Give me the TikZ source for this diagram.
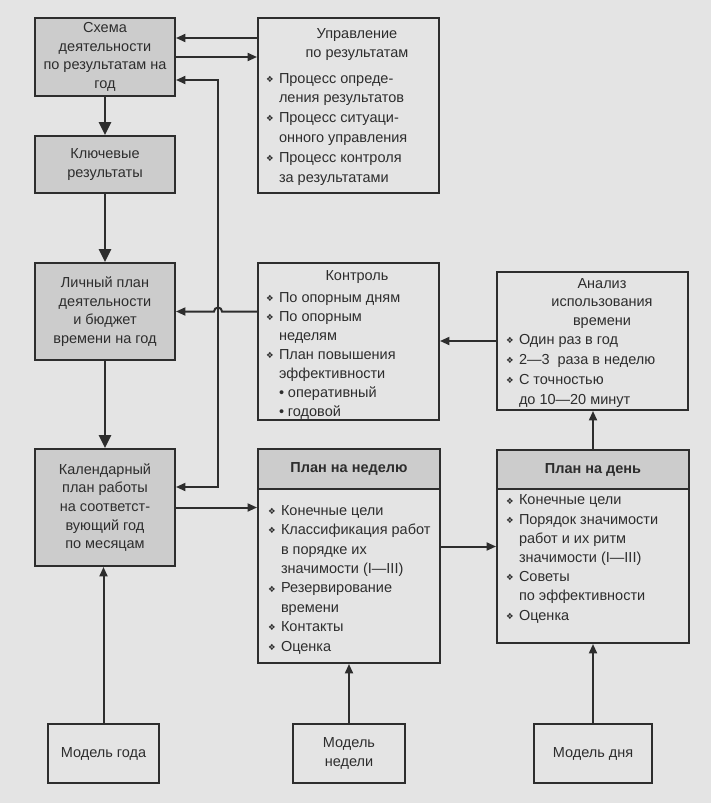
\documentclass[tikz,border=0pt]{standalone}
\usepackage{fontspec}
\setmainfont{Liberation Sans}
\newfontfamily\symfont{DejaVu Sans}
\usetikzlibrary{arrows.meta}
\definecolor{paper}{RGB}{228,228,228}
\definecolor{boxgray}{RGB}{204,204,204}
\definecolor{ink}{RGB}{45,45,45}
\newcommand\itm{\makebox[13pt][l]{\raisebox{0.8pt}{\symfont\fontsize{8.5}{8.5}\selectfont ❖}}}
\newcommand\itmind{\hspace*{13pt}}
\newcommand\sitm{\hspace*{13pt}\makebox[9pt][l]{•}}
\begin{document}
\begin{tikzpicture}[x=1pt,y=-1pt,>={Triangle[length=9.5pt,width=8pt]},
  plainbox/.style={draw=ink,line width=1.9pt,inner sep=2pt,text=ink,font=\fontsize{14.5}{18.7}\selectfont},
  graybox/.style={plainbox,fill=boxgray,align=center},
  txt/.style={inner sep=0pt,outer sep=0pt,text=ink,font=\fontsize{14.5}{19.5}\selectfont},
  lst/.style={txt,align=left,anchor=base west},
  arr/.style={draw=ink,line width=2pt,->},
  bigarr/.style={draw=ink,line width=2.9pt,-{Triangle[length=13pt,width=12pt]}}]
\path[use as bounding box,fill=paper] (0,0) rectangle (711,803);
\node[graybox,minimum width=140,minimum height=78] (shema) at (105,57) {Схема\\деятельности\\по результатам на\\год};
\node[graybox,minimum width=140,minimum height=57] (kluch) at (105,164.5) {Ключевые\\результаты};
\node[graybox,minimum width=140,minimum height=97] (lichn) at (105,311.5) {Личный план\\деятельности\\и бюджет\\времени на год};
\node[graybox,minimum width=140,minimum height=117] (kalend) at (105,507.5) {Календарный\\план работы\\на соответст-\\вующий год\\по месяцам};
\node[plainbox,minimum width=181,minimum height=175] (upr) at (348.5,105.5) {};
\node[txt,align=center,anchor=base,font=\fontsize{14.5}{19}\selectfont] (upr-t) at (357,57) {Управление\\по результатам};
\node[lst,font=\fontsize{14.5}{19.8}\selectfont] (upr-l) at (266,182) {\itm Процесс опреде-\\ \itmind ления результатов\\ \itm Процесс ситуаци-\\ \itmind онного управления\\ \itm Процесс контроля\\ \itmind за результатами};
\node[plainbox,minimum width=181,minimum height=157] (kontr) at (348.5,341.5) {};
\node[txt,anchor=base] (kontr-t) at (357,280) {Контроль};
\node[lst,font=\fontsize{14.5}{19}\selectfont] (kontr-l) at (266,416) {\itm По опорным дням\\ \itm По опорным\\ \itmind неделям\\ \itm План повышения\\ \itmind эффективности\\ \sitm оперативный\\ \sitm годовой};
\node[plainbox,minimum width=182,minimum height=214] (wplan) at (349,556) {};
\node[graybox,anchor=north,minimum width=182,minimum height=40,font=\bfseries\fontsize{14.5}{18}\selectfont] (wplan-h) at (wplan.north) {План на неделю};
\node[lst,font=\fontsize{14.5}{19.4}\selectfont] (wplan-l) at (268,651) {\itm Конечные цели\\ \itm Классификация работ\\ \itmind в порядке их\\ \itmind значимости (I—III)\\ \itm Резервирование\\ \itmind времени\\ \itm Контакты\\ \itm Оценка};
\node[plainbox,minimum width=191,minimum height=138] (analiz) at (592.5,341) {};
\node[txt,align=center,anchor=base,font=\fontsize{14.5}{18.5}\selectfont] (analiz-t) at (602,325) {Анализ\\использования\\времени};
\node[lst,font=\fontsize{14.5}{20}\selectfont] (analiz-l) at (506,404) {\itm Один раз в год\\ \itm 2—3~~раза в неделю\\ \itm С точностью\\ \itmind до 10—20 минут};
\node[plainbox,minimum width=192,minimum height=193] (dplan) at (593,546.5) {};
\node[graybox,anchor=north,minimum width=192,minimum height=39,font=\bfseries\fontsize{14.5}{18}\selectfont] (dplan-h) at (dplan.north) {План на день};
\node[lst,font=\fontsize{14.5}{19.2}\selectfont] (dplan-l) at (506,620) {\itm Конечные цели\\ \itm Порядок значимости\\ \itmind работ и их ритм\\ \itmind значимости (I—III)\\ \itm Советы\\ \itmind по эффективности\\ \itm Оценка};
\node[plainbox,minimum width=111,minimum height=59] (mgod) at (103.5,753.5) {Модель года};
\node[plainbox,minimum width=112,minimum height=59,align=center] (mned) at (349,753.5) {Модель\\недели};
\node[plainbox,minimum width=118,minimum height=59] (mden) at (593,753.5) {Модель дня};
\coordinate (busT) at (218,80);
\coordinate (busB) at (218,487);
\draw[bigarr] (shema) -- (kluch);
\draw[bigarr] (kluch) -- (lichn);
\draw[bigarr] (lichn) -- (kalend);
\draw[arr] ([yshift=19pt]shema.east -| upr.west) -- ([yshift=19pt]shema.east);
\draw[arr] (shema.east) -- (shema.east -| upr.west);
\draw[arr,<->] (shema.east |- busT) -- (busT) -- (busB) -- (kalend.east |- busB);
\draw[arr] (kontr.west |- lichn.east) -- ([xshift=4pt]busT |- lichn.east) arc[start angle=0,end angle=-180,radius=4] -- (lichn.east);
\draw[arr] (analiz.west) -- (analiz.west -| kontr.east);
\draw[arr] (kalend.east) -- (kalend.east -| wplan.west);
\draw[arr] (dplan.west -| wplan.east) -- (dplan.west);
\draw[arr] (dplan.north) -- (dplan.north |- analiz.south);
\draw[arr] (mgod.north) -- (mgod.north |- kalend.south);
\draw[arr] (mned) -- (wplan);
\draw[arr] (mden) -- (dplan);
\end{tikzpicture}
\end{document}
